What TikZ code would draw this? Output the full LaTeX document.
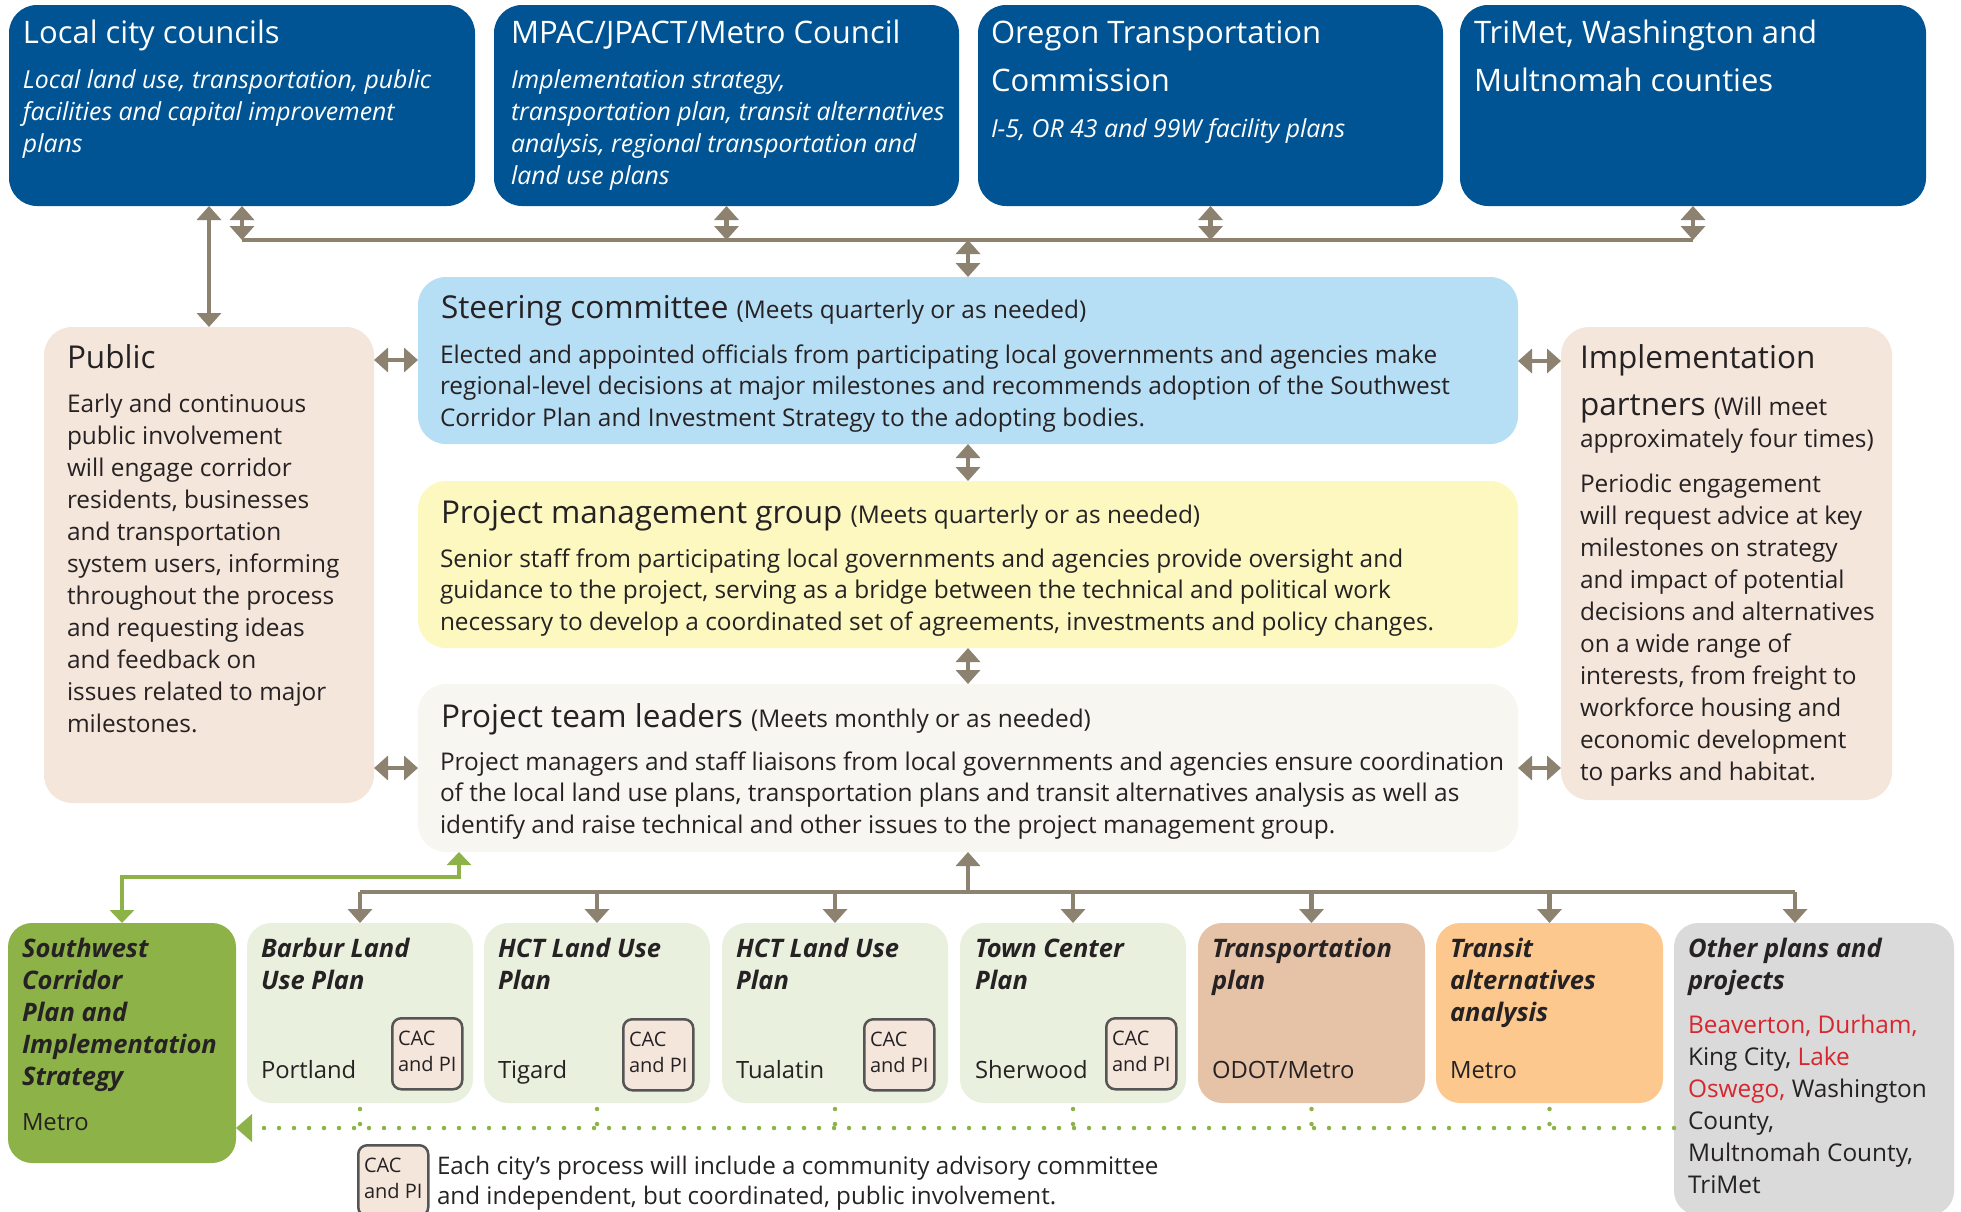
\documentclass[tikz,border=0pt]{standalone}
\usepackage{fontspec}
\setmainfont{Open Sans}
\usetikzlibrary{arrows.meta}
\definecolor{topblue}{RGB}{0,84,147}
\definecolor{steerblue}{RGB}{182,222,245}
\definecolor{pmgyellow}{RGB}{252,248,192}
\definecolor{teamgray}{RGB}{247,246,241}
\definecolor{peach}{RGB}{245,230,220}
\definecolor{taupe}{RGB}{141,130,111}
\definecolor{swgreen}{RGB}{141,178,72}
\definecolor{lightgreen}{RGB}{233,240,222}
\definecolor{transbrown}{RGB}{230,194,166}
\definecolor{transorange}{RGB}{253,200,142}
\definecolor{othergray}{RGB}{218,218,218}
\definecolor{redtext}{RGB}{215,38,46}
\definecolor{textdark}{RGB}{38,34,35}
\definecolor{cacborder}{RGB}{85,85,85}
\newcommand\myHeadTop{\fontsize{31}{48}\selectfont}
\newcommand\myHead{\fontsize{31.5}{47}\selectfont}
\newcommand\myBody{\fontsize{24.4}{32}\selectfont}
\newcommand\myBodyB{\fontsize{24.4}{31.5}\selectfont}
\newcommand\mySmall{\fontsize{24.2}{32}\selectfont}
\newcommand\myItal{\fontsize{24.8}{32}\selectfont\itshape}
\newcommand\myBI{\fontsize{25.5}{32}\selectfont\bfseries\itshape}
\newcommand\myCity{\fontsize{23.8}{32}\selectfont}
\newcommand\myCAC{\fontsize{20}{26}\selectfont}
\tikzset{
  box/.style={rectangle, rounded corners=28pt, inner sep=0pt, outer sep=0pt, anchor=north west, draw=none},
  sbox/.style={box, rounded corners=24pt, minimum height=180pt},
  cacbox/.style={rectangle, rounded corners=9pt, draw=cacborder, line width=2.5pt, fill=peach, minimum width=70pt, minimum height=71pt, anchor=north west, inner sep=0pt},
  txt/.style={anchor=base west, inner sep=0pt, outer sep=0pt, align=left, text=textdark},
  wtxt/.style={txt, text=white},
  tline/.style={draw=taupe, line width=4.5pt},
  tarr/.style={tline, >={Triangle[length=14pt,width=24pt]}},
  garr/.style={draw=swgreen, line width=4.5pt, >={Triangle[length=13pt,width=24pt]}},
  gdot/.style={draw=swgreen, line width=4.5pt, line cap=round, dash pattern=on 0pt off 15pt},
}
\begin{document}
\begin{tikzpicture}[x=1pt,y=-1pt]
\useasboundingbox (0,0) rectangle (1961,1211);
\clip (0,0) rectangle (1961,1211);
% ---------- top boxes
\node[box, fill=topblue, minimum width=466pt, minimum height=201pt] (lcc) at (9,5) {};
\node[box, fill=topblue, minimum width=465pt, minimum height=201pt] (mpac) at (494,5) {};
\node[box, fill=topblue, minimum width=465pt, minimum height=201pt] (otc) at (978,5) {};
\node[box, fill=topblue, minimum width=466pt, minimum height=201pt] (tri) at (1460,5) {};
% (multi-line text nodes are placed at the baseline of their LAST line)
\node[wtxt, font=\myHeadTop] (lcc-t) at (23,43) {Local city councils};
\node[wtxt, font=\myItal] (lcc-b) at (23,152) {Local land use, transportation, public\\facilities and capital improvement\\plans};
\node[wtxt, font=\myHeadTop] (mpac-t) at (511,43) {MPAC/JPACT/Metro Council};
\node[wtxt, font=\myItal] (mpac-b) at (511,184) {Implementation strategy,\\transportation plan, transit alternatives\\analysis, regional transportation and\\land use plans};
\node[wtxt, font=\myHeadTop] (otc-t) at (991,91) {Oregon Transportation\\Commission};
\node[wtxt, font=\myItal] (otc-b) at (991,137) {I-5, OR 43 and 99W facility plans};
\node[wtxt, font=\myHeadTop] (tri-t) at (1474,91) {TriMet, Washington and\\Multnomah counties};
% ---------- middle boxes
\node[box, fill=peach, minimum width=330pt, minimum height=476pt] (pub) at (44,327) {};
\node[box, fill=steerblue, minimum width=1100pt, minimum height=167pt] (steer) at (418,277) {};
\node[box, fill=pmgyellow, minimum width=1100pt, minimum height=167pt] (pmg) at (418,481) {};
\node[box, fill=teamgray, minimum width=1100pt, minimum height=168pt] (team) at (418,684) {};
\node[box, fill=peach, minimum width=331pt, minimum height=473pt] (impl) at (1561,327) {};
\node[txt, font=\myHead] (pub-t) at (67,368) {Public};
\node[txt, font=\myBody] (pub-b) at (67,732) {Early and continuous\\public involvement\\will engage corridor\\residents, businesses\\and transportation\\system users, informing\\throughout the process\\and requesting ideas\\and feedback on\\issues related to major\\milestones.};
\node[txt] (steer-t) at (441,318) {\myHead Steering committee \myBody(Meets quarterly or as needed)};
\node[txt, font=\myBodyB] (steer-b) at (440,426) {Elected and appointed officials from participating local governments and agencies make\\regional-level decisions at major milestones and recommends adoption of the Southwest\\Corridor Plan and Investment Strategy to the adopting bodies.};
\node[txt] (pmg-t) at (441,523) {\myHead Project management group \myBody(Meets quarterly or as needed)};
\node[txt, font=\myBodyB] (pmg-b) at (440,630) {Senior staff from participating local governments and agencies provide oversight and\\guidance to the project, serving as a bridge between the technical and political work\\necessary to develop a coordinated set of agreements, investments and policy changes.};
\node[txt] (team-t) at (441,727) {\myHead Project team leaders \myBody(Meets monthly or as needed)};
\node[txt, font=\myBodyB] (team-b) at (440,833) {Project managers and staff liaisons from local governments and agencies ensure coordination\\of the local land use plans, transportation plans and transit alternatives analysis as well as\\identify and raise technical and other issues to the project management group.};
\node[txt, font=\myHead] (impl-t1) at (1580,368) {Implementation};
\node[txt] (impl-t2) at (1580,415) {\myHead partners \myBody(Will meet};
\node[txt, font=\myBody] (impl-t3) at (1580,447) {approximately four times)};
\node[txt, font=\myBody] (impl-b) at (1580,780) {Periodic engagement\\will request advice at key\\milestones on strategy\\and impact of potential\\decisions and alternatives\\on a wide range of\\interests, from freight to\\workforce housing and\\economic development\\to parks and habitat.};
% ---------- bottom boxes
\node[sbox, fill=swgreen, minimum width=228pt, minimum height=240pt] (sw) at (8,923) {};
\node[sbox, fill=lightgreen, minimum width=226pt] (barbur) at (247,923) {};
\node[sbox, fill=lightgreen, minimum width=226pt] (tigard) at (484,923) {};
\node[sbox, fill=lightgreen, minimum width=226pt] (tual) at (722,923) {};
\node[sbox, fill=lightgreen, minimum width=226pt] (sher) at (960,923) {};
\node[sbox, fill=transbrown, minimum width=227pt] (transp) at (1198,923) {};
\node[sbox, fill=transorange, minimum width=227pt] (transit) at (1436,923) {};
\node[sbox, fill=othergray, minimum width=280pt, minimum height=292pt] (other) at (1674,923) {};
\node[txt, font=\myBI] (sw-t) at (22,1085) {Southwest\\Corridor\\Plan and\\Implementation\\Strategy};
\node[txt, font=\myCity] (sw-b) at (22,1130) {Metro};
\node[txt, font=\myBI] (barbur-t) at (261,989) {Barbur Land\\Use Plan};
\node[txt, font=\myCity] (barbur-b) at (261,1078) {Portland};
\node[txt, font=\myBI] (tigard-t) at (498,989) {HCT Land Use\\Plan};
\node[txt, font=\myCity] (tigard-b) at (498,1078) {Tigard};
\node[txt, font=\myBI] (tual-t) at (736,989) {HCT Land Use\\Plan};
\node[txt, font=\myCity] (tual-b) at (736,1078) {Tualatin};
\node[txt, font=\myBI] (sher-t) at (975,989) {Town Center\\Plan};
\node[txt, font=\myCity] (sher-b) at (975,1078) {Sherwood};
\node[txt, font=\myBI] (transp-t) at (1212,989) {Transportation\\plan};
\node[txt, font=\myCity] (transp-b) at (1212,1078) {ODOT/Metro};
\node[txt, font=\myBI] (transit-t) at (1450,1021) {Transit\\alternatives\\analysis};
\node[txt, font=\myCity] (transit-b) at (1450,1078) {Metro};
\node[txt, font=\myBI] (other-t) at (1688,989) {Other plans and\\projects};
\node[txt, font=\myBody] (other-b) at (1688,1193) {\textcolor{redtext}{Beaverton, Durham,}\\King City, \textcolor{redtext}{Lake}\\\textcolor{redtext}{Oswego,} Washington\\County,\\Multnomah County,\\TriMet};
% CAC boxes
\node[cacbox] (cac1) at (391,1017) {};
\node[cacbox] (cac2) at (622,1018) {};
\node[cacbox] (cac3) at (863,1018) {};
\node[cacbox] (cac4) at (1105,1017) {};
\node[cacbox] (cacL) at (357,1144) {};
\node[txt, font=\myCAC] (cac1-t) at (398,1071) {CAC\\and PI};
\node[txt, font=\myCAC] (cac2-t) at (629,1072) {CAC\\and PI};
\node[txt, font=\myCAC] (cac3-t) at (870,1072) {CAC\\and PI};
\node[txt, font=\myCAC] (cac4-t) at (1112,1071) {CAC\\and PI};
\node[txt, font=\myCAC] (cacL-t) at (364,1198) {CAC\\and PI};
\node[txt, font=\fontsize{24.2}{30}\selectfont] (leg-t) at (437,1204) {Each city’s process will include a community advisory committee\\and independent, but coordinated, public involvement.};
% ---------- connectors: top
\coordinate (barL) at (lcc.south |- 0,240);
\coordinate (barR) at (tri.south |- 0,240);
\draw[tline] (barL) -- (barR);
\draw[tarr,<->] (lcc.south) -- (barL);
\draw[tarr,<->] (mpac.south) -- (mpac.south |- barL);
\draw[tarr,<->] (otc.south) -- (otc.south |- barL);
\draw[tarr,<->] (tri.south) -- (barR);
\draw[tarr,<->] (steer.north |- barL) -- (steer.north);
\draw[tarr,<->] (pub.north |- lcc.south) -- (pub.north);
% middle
\draw[tarr,<->] (pub.east |- 0,360) -- (steer.west |- 0,360);
\draw[tarr,<->] (steer.east |- 0,361) -- (impl.west |- 0,361);
\draw[tarr,<->] (pub.east |- 0,768) -- (team.west |- 0,768);
\draw[tarr,<->] (team.east |- 0,768) -- (impl.west |- 0,768);
\draw[tarr,<->] (steer.south) -- (pmg.north);
\draw[tarr,<->] (pmg.south) -- (team.north);
% bottom
\coordinate (bbar) at (barbur.north |- 0,892);
\coordinate (obar) at (1795,892);
\draw[tline] (bbar) -- (obar);
\draw[tarr,->] (team.south |- bbar) -- (team.south);
\draw[tarr,->] (bbar) -- (barbur.north);
\draw[tarr,->] (tigard.north |- bbar) -- (tigard.north);
\draw[tarr,->] (tual.north |- bbar) -- (tual.north);
\draw[tarr,->] (sher.north |- bbar) -- (sher.north);
\draw[tarr,->] (transp.north |- bbar) -- (transp.north);
\draw[tarr,->] (transit.north |- bbar) -- (transit.north);
\draw[tarr,->] (obar) -- (obar |- other.north);
\draw[garr,<->] (team.south -| 459,0) -- (459,877) -- (sw.north |- 0,877) -- (sw.north);
% dotted
\coordinate (dotR) at (other.west |- 0,1128);
\foreach \b in {barbur,tigard,tual,sher,transp,transit}{
  \draw[gdot] (\b.south) ++(0,6) -- (\b.south |- dotR);
}
\draw[gdot] (dotR) -- (sw.east |- dotR);
\fill[swgreen] (sw.east |- dotR) -- ++(16,-14) -- ++(0,28) -- cycle;
\end{tikzpicture}
\end{document}
